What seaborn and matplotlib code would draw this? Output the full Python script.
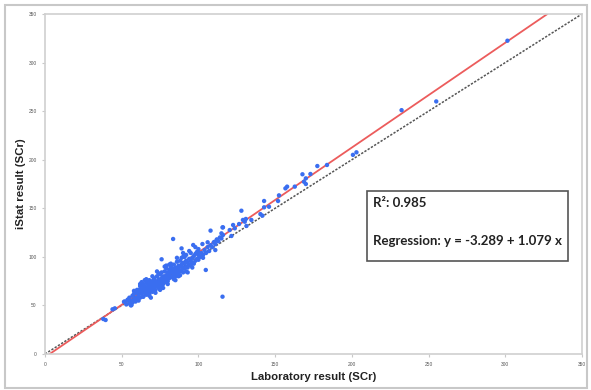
# Dependencies
import numpy as np
import pandas as pd
import seaborn as sns
import matplotlib
import matplotlib.pyplot as plt
from matplotlib.patches import Rectangle

matplotlib.use('Agg')

# Data
lab = [
    38, 39.5, 44, 45.5, 51.5, 53.8, 56.4, 64,
    52, 53, 54, 55, 55, 56, 56, 57, 57, 58, 58, 59, 59, 60, 60, 60,
    61, 61, 62, 62, 62, 63, 63, 64, 64, 64, 65, 65, 65, 66, 66, 66, 67, 67, 67,
    68, 68, 68, 68, 69, 69, 69, 70, 70, 70, 70,
    71, 71, 71, 72, 72, 72, 73, 73, 73, 74, 74, 74, 75, 75, 75, 76, 76, 76,
    77, 77, 77, 78, 78, 78, 79, 79, 79, 80, 80, 80,
    81, 81, 81, 82, 82, 82, 83, 83, 83, 84, 84, 84, 85, 85, 85, 86, 86, 86,
    87, 87, 87, 88, 88, 88, 89, 89, 90, 90, 90, 90,
    91, 91, 92, 92, 92, 93, 93, 94, 94, 95, 95, 95, 96, 96, 97, 97, 98, 98,
    99, 99, 100, 100, 100,
    101, 102, 103, 104, 105, 106, 107, 108, 109, 110, 111, 112, 113, 114, 115,
    58, 61, 63, 66, 68, 70, 72, 74, 76, 78, 80, 82, 84, 86, 88, 90, 92, 94,
    96, 98, 65, 69, 73, 77, 81, 85, 89, 93, 62, 75, 79, 87, 91, 103, 106, 111,
    83.5, 104.8, 115.7, 107.9, 115.7, 115, 76, 89, 96.6, 102.6, 110.7, 99.8,
    116, 116, 121.5, 120.4, 123.7, 122.6, 126.5, 131.3, 130.2, 129, 134.5,
    130.9, 128, 140.4, 141.7, 142.8, 146, 142.8, 151.9, 152.5, 156.7, 157.8,
    162.8, 170, 168.8, 170, 173, 167.8, 177.5, 183.8,
    200.7, 203, 232.4, 255, 301.4,
]
istat = [
    36, 35, 46, 47, 53.8, 55.6, 50.4, 59,
    54, 51, 56, 52, 58, 50, 55, 53, 60, 56, 62, 54, 58, 57, 63, 66,
    60, 64, 58, 67, 70, 62, 65, 59, 68, 72, 63, 66, 70, 61, 67, 74, 64, 69, 72,
    62, 66, 71, 76, 65, 68, 73, 67, 70, 75, 64,
    69, 73, 78, 66, 71, 75, 70, 74, 80, 68, 72, 77, 71, 75, 82, 73, 78, 84,
    72, 76, 80, 74, 79, 85, 77, 81, 88, 75, 80, 84,
    78, 83, 87, 80, 85, 90, 79, 84, 88, 82, 86, 92, 80, 85, 89, 83, 87, 95,
    84, 88, 91, 85, 90, 96, 86, 92, 84, 89, 94, 100,
    88, 93, 90, 96, 102, 89, 94, 92, 98, 91, 96, 104, 94, 99, 93, 101, 96, 103,
    98, 105, 97, 102, 108,
    100, 104, 102, 107, 104, 110, 106, 112, 110, 115, 113, 118, 116, 120, 119,
    65, 55, 74, 77, 60, 80, 63, 83, 68, 90, 72, 93, 77, 99, 81, 104, 85, 106,
    89, 110, 76, 58, 85, 68, 92, 76, 99, 84, 72, 66, 91, 80, 100, 99, 115, 107,
    118.4, 86.5, 59, 127, 130.3, 124.2, 97.5, 108.7, 112.2, 113.2, 115.6, 105,
    130.4, 122.5, 121.5, 127.6, 129.4, 132.8, 133.8, 131.8, 136.2, 138, 138,
    139, 147.5, 144, 142.4, 157.5, 151.6, 151, 157.5, 163.3, 170.5, 172.3,
    172.3, 175, 177.3, 180.8, 185.3, 185, 193.5, 194.6,
    205, 207.6, 251, 260, 322.5,
]

r2 = 0.985
intercept = -3.289
slope = 1.079

axis_max = 350
ticks = [0, 50, 100, 150, 200, 250, 300, 350]

df = pd.DataFrame({"lab": lab, "istat": istat})

# fig
sns.set_theme(style="white")
plt.rcParams['font.family'] = ['Liberation Sans', 'DejaVu Sans']

fig = plt.figure(figsize=(5.91, 3.90), dpi=100)
ax = fig.add_axes([45 / 591, 36 / 390, 537 / 591, 340 / 390])

# outer frame
fig.patches.append(Rectangle((5 / 591, 2 / 390), 582 / 591, 383 / 390,
                             transform=fig.transFigure, fill=False,
                             edgecolor="#c8c8c8", linewidth=1.5))

# identity line
x_id = np.array([0, axis_max])
ax.plot(x_id, x_id, color="#555555", lw=1.1, ls=(0, (1.5, 1)), zorder=1)

# regression line
x_reg = np.array([-intercept / slope, (axis_max - intercept) / slope])
ax.plot(x_reg, intercept + slope * x_reg, color="#ec5c5c", lw=1.3, zorder=2)

# points
sns.scatterplot(data=df, x="lab", y="istat", ax=ax, color="#3a6ef0",
                s=10, edgecolor="none", zorder=3)

ax.set_xlim(0, axis_max)
ax.set_ylim(0, axis_max)
ax.set_xticks(ticks)
ax.set_yticks(ticks)
ax.tick_params(axis="both", labelsize=3.5, labelcolor="#555555", colors="#c8c8c8",
               length=2, width=0.8, direction="out", bottom=True, left=True, pad=4)
for s in ax.spines.values():
    s.set_color("#d0d0d0")
    s.set_linewidth(1.2)

ax.set_xlabel("Laboratory result (SCr)", fontsize=8.2, fontweight="bold",
              color="#222222", labelpad=3)
ax.set_ylabel("iStat result (SCr)", fontsize=8.2, fontweight="bold",
              color="#222222", labelpad=2)

# annotation box
ax.add_patch(Rectangle((209.6, 95.7), 131.5, 72.1, fill=True, facecolor="white",
                       edgecolor="#555555", linewidth=1.2, zorder=4))
ax.text(213.5, 155.4, "R²: %.3f" % r2, fontsize=9.5, fontweight="bold",
        family=["Lato", "DejaVu Sans"], color="#222222", va="center", ha="left", zorder=5)
ax.text(213.5, 116.3, "Regression: y = %.3f + %.3f x" % (intercept, slope),
        fontsize=9.5, fontweight="bold", family=["Lato", "DejaVu Sans"],
        color="#222222", va="center", ha="left", zorder=5)

plt.savefig("out.png", dpi=100)
plt.close("all")
